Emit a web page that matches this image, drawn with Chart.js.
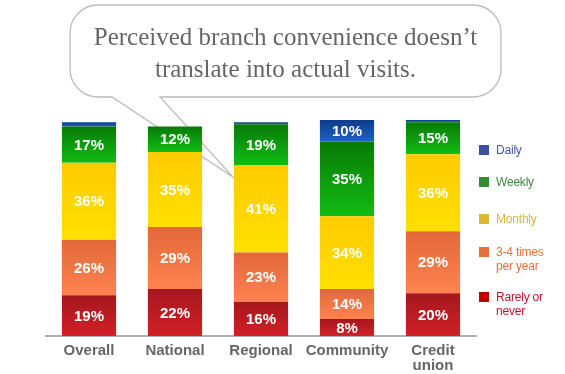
<!DOCTYPE html>
<html>
<head>
<meta charset="utf-8">
<script src="https://cdn.jsdelivr.net/npm/chart.js@4.4.1/dist/chart.umd.min.js"></script>
<style>
  html, body { margin: 0; padding: 0; background: #fff; }
  #wrap { position: relative; width: 565px; height: 374px; }
  #title {
    position: absolute; left: 70px; top: 21px; width: 431px;
    text-align: center; font: 25px "Liberation Serif", serif; line-height: 32px;
    color: #666;
  }
  .lg { position: absolute; left: 479px; width: 86px; }
  .lg i { position: absolute; left: 0; top: 0; width: 10px; height: 10px; }
  .lg span {
    position: absolute; left: 17px; top: -2px; width: 58px;
    font: 12px "Liberation Sans", Arial, sans-serif; line-height: 14px; letter-spacing: -0.2px;
  }
</style>
</head>
<body>
<div id="wrap">
  <canvas id="chart"></canvas>
  <div id="title">Perceived branch convenience doesn’t<br>translate into actual visits.</div>
</div>
<script>
const categories = ["Overall", "National", "Regional", "Community", ["Credit", "union"]]
const rarely = [19, 22, 16, 8, 20]
const timesPerYear = [26, 29, 23, 14, 29]
const monthly = [36, 35, 41, 34, 36]
const weekly = [17, 12, 19, 35, 15]
const daily = [2, 0, 1, 10, 1]

const seriesNames = ["Rarely or never", "3-4 times per year", "Monthly", "Weekly", "Daily"]
const topColors = ["#a5171d", "#e2683a", "#ffcb00", "#077a07", "#0d3b8c"]
const bottomColors = ["#d22028", "#ff8350", "#ffe000", "#12bc12", "#1c63c4"]
const legendSwatch = ["#c00000", "#e86e3a", "#dcb832", "#358a35", "#3a4fa0"]
const legendText = ["#c8102e", "#e8703a", "#d7b53d", "#3d8a3d", "#4455a6"]

// speech bubble with tail, drawn behind the bars
const bubble = {
  id: "bubble",
  beforeDatasetsDraw(chart) {
    const c = chart.ctx
    const x0 = 70, y0 = 5, x1 = 501, y1 = 97, r = 28
    c.save()
    c.beginPath()
    c.moveTo(x0 + r, y0)
    c.lineTo(x1 - r, y0)
    c.arcTo(x1, y0, x1, y0 + r, r)
    c.lineTo(x1, y1 - r)
    c.arcTo(x1, y1, x1 - r, y1, r)
    c.lineTo(160, y1)
    c.lineTo(233, 177)
    c.lineTo(112, y1)
    c.lineTo(x0 + r, y1)
    c.arcTo(x0, y1, x0, y1 - r, r)
    c.lineTo(x0, y0 + r)
    c.arcTo(x0, y0, x0 + r, y0, r)
    c.closePath()
    c.fillStyle = "#fff"
    c.fill()
    c.strokeStyle = "#bcbcbc"
    c.lineWidth = 1.3
    c.stroke()
    c.restore()
  }
}

// vertical gradient on each segment
const gradients = {
  id: "gradients",
  beforeDatasetsDraw(chart) {
    const c = chart.ctx
    chart.data.datasets.forEach((ds, i) => {
      chart.getDatasetMeta(i).data.forEach(el => {
        const p = el.getProps(["y", "base"], true)
        if (!isFinite(p.y) || !isFinite(p.base) || p.y === p.base) return
        const g = c.createLinearGradient(0, p.y, 0, p.base)
        g.addColorStop(0, topColors[i])
        g.addColorStop(1, bottomColors[i])
        el.options = Object.assign({}, el.options, { backgroundColor: g })
      })
    })
  }
}

const segLabels = {
  id: "segLabels",
  afterDatasetsDraw(chart) {
    const c = chart.ctx
    c.save()
    c.fillStyle = "#fff"
    c.font = "bold 15px 'Liberation Sans', Arial, sans-serif"
    c.textAlign = "center"
    c.textBaseline = "middle"
    chart.data.datasets.forEach((ds, i) => {
      chart.getDatasetMeta(i).data.forEach((el, j) => {
        const v = ds.data[j]
        if (v < 5) return
        const p = el.getProps(["x", "y", "base"], true)
        c.fillText(v + "%", p.x, (p.y + p.base) / 2 + 1)
      })
    })
    c.restore()
  }
}

const values = [rarely, timesPerYear, monthly, weekly, daily]

new Chart(document.getElementById("chart"), {
  type: "bar",
  data: {
    labels: categories,
    datasets: values.map((data, i) => ({
      label: seriesNames[i],
      data,
      backgroundColor: bottomColors[i],
      borderWidth: 0,
      categoryPercentage: 1,
      barPercentage: 0.63
    }))
  },
  options: {
    responsive: true,
    maintainAspectRatio: false,
    animation: false,
    layout: { padding: { left: 46, right: 89, top: 120, bottom: -6 } },
    plugins: { legend: { display: false }, tooltip: { enabled: false } },
    scales: {
      x: {
        stacked: true,
        grid: { display: false, drawTicks: false },
        border: { display: true, color: "#b0b0b0", width: 2 },
        ticks: {
          color: "#666",
          padding: 7,
          autoSkip: false,
          maxRotation: 0,
          minRotation: 0,
          font: { family: "'Liberation Sans', Arial, sans-serif", size: 15, weight: "bold", lineHeight: 1.0 }
        }
      },
      y: { stacked: true, display: false, min: 0, max: 101 }
    }
  },
  plugins: [bubble, gradients, segLabels]
})

// legend, top item first
const wrap = document.getElementById("wrap")
const legendTops = [292, 247, 214, 177, 145]
seriesNames.forEach((name, i) => {
  const d = document.createElement("div")
  d.className = "lg"
  d.style.top = legendTops[i] + "px"
  d.innerHTML = `<i style="background:${legendSwatch[i]}"></i><span style="color:${legendText[i]}">${name}</span>`
  wrap.appendChild(d)
})
</script>
</body>
</html>
